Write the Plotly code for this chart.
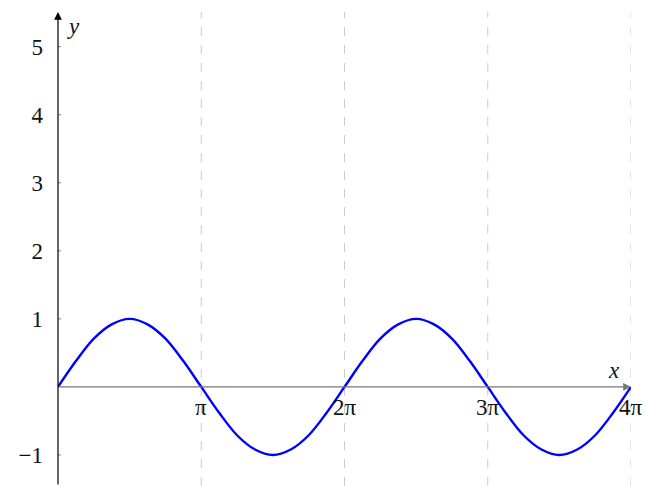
import math
import plotly.graph_objects as go

# Values (x in multiples of pi)
x_pi = [0, 0.125, 0.25, 0.375, 0.5, 0.625, 0.75, 0.875,
        1, 1.125, 1.25, 1.375, 1.5, 1.625, 1.75, 1.875,
        2, 2.125, 2.25, 2.375, 2.5, 2.625, 2.75, 2.875,
        3, 3.125, 3.25, 3.375, 3.5, 3.625, 3.75, 3.875, 4]
y_vals = [0, 0.38, 0.71, 0.92, 1, 0.92, 0.71, 0.38,
          0, -0.38, -0.71, -0.92, -1, -0.92, -0.71, -0.38,
          0, 0.38, 0.71, 0.92, 1, 0.92, 0.71, 0.38,
          0, -0.38, -0.71, -0.92, -1, -0.92, -0.71, -0.38, 0]

x_tick_pi = [1, 2, 3, 4]
x_tick_labels = ["π", "2π", "3π", "4π"]
y_tick_vals = [-1, 1, 2, 3, 4, 5]
y_tick_labels = ["−1", "1", "2", "3", "4", "5"]

PI = math.pi
xs = [v * PI for v in x_pi]
xticks = [v * PI for v in x_tick_pi]

X_RANGE = [0, 4 * PI]
Y_RANGE = [-1.456, 5.51]
FONT = "Liberation Serif"
FS = 23

fig = go.Figure()
fig.add_trace(go.Scatter(
    x=xs, y=y_vals, mode="lines",
    line=dict(color="#0000ff", width=2.4, shape="spline", smoothing=1.0),
    cliponaxis=False, hoverinfo="skip", showlegend=False,
))

annotations = []
# x tick labels
for xv, lab in zip(xticks, x_tick_labels):
    annotations.append(dict(x=xv, y=0, xref="x", yref="y", text=lab,
                            showarrow=False, yanchor="top", yshift=-6,
                            font=dict(family=FONT, size=FS, color="#111")))
# axis arrows
annotations.append(dict(x=X_RANGE[1], y=0, ax=X_RANGE[0], ay=0,
                        xref="x", yref="y", axref="x", ayref="y",
                        showarrow=True, arrowhead=2, arrowsize=1.3,
                        arrowwidth=1.2, arrowcolor="#777777", text=""))
annotations.append(dict(x=0, y=Y_RANGE[1], ax=0, ay=Y_RANGE[0],
                        xref="x", yref="y", axref="x", ayref="y",
                        showarrow=True, arrowhead=2, arrowsize=1.3,
                        arrowwidth=1.2, arrowcolor="#000000", text=""))
# axis labels
annotations.append(dict(x=X_RANGE[1], y=0, xref="x", yref="y", text="<i>x</i>",
                        showarrow=False, xanchor="right", yanchor="bottom",
                        xshift=-9, yshift=2,
                        font=dict(family=FONT, size=FS, color="#111")))
annotations.append(dict(x=0, y=Y_RANGE[1], xref="x", yref="y", text="<i>y</i>",
                        showarrow=False, xanchor="left", yanchor="top",
                        xshift=7, yshift=0,
                        font=dict(family=FONT, size=FS, color="#111")))

shapes = []
# small y tick marks crossing the axis
for yv in y_tick_vals:
    shapes.append(dict(type="line", xref="x", yref="y", xsizemode="pixel",
                       xanchor=0, x0=-3, x1=3, y0=yv, y1=yv,
                       line=dict(color="#888888", width=1)))
# dashed vertical grid lines
for xv in xticks:
    shapes.append(dict(type="line", xref="x", yref="paper", x0=xv, x1=xv,
                       y0=0, y1=1, layer="below",
                       line=dict(color="#cccccc", width=1, dash="dash")))

fig.update_layout(
    width=646, height=486,
    margin=dict(l=58, r=15, t=12, b=0, autoexpand=False),
    paper_bgcolor="white", plot_bgcolor="white",
    xaxis=dict(range=X_RANGE, showgrid=False, zeroline=False, showline=False,
               showticklabels=False, ticks="", automargin=False),
    yaxis=dict(range=Y_RANGE, showgrid=False, zeroline=False, showline=False,
               tickmode="array", tickvals=y_tick_vals, ticktext=y_tick_labels,
               ticks="", ticklabelstandoff=14, automargin=False,
               tickfont=dict(family=FONT, size=FS, color="#111")),
    annotations=annotations, shapes=shapes,
)

fig.write_html(
    "out.html",
    config={"displayModeBar": False},
    post_script="document.body.style.margin='0';document.body.style.overflow='hidden';",
)
